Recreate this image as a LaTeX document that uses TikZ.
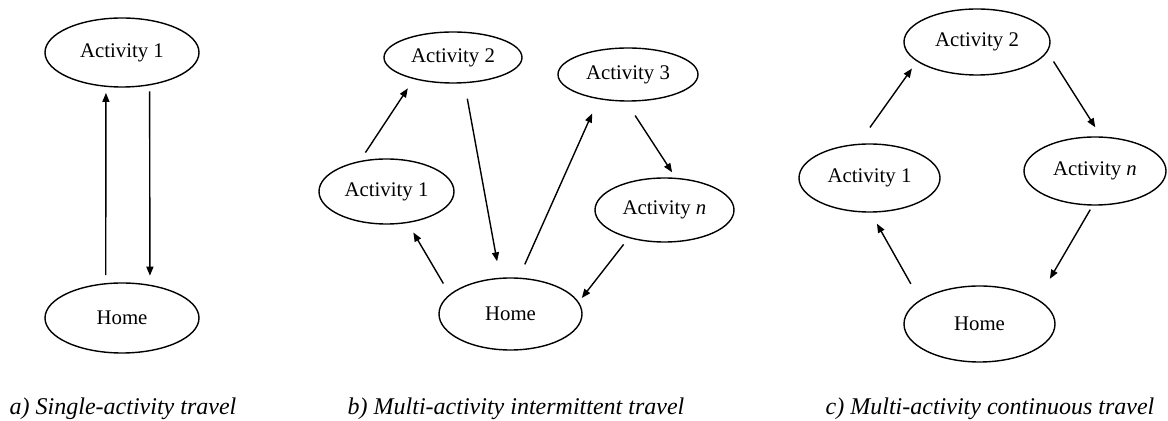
\documentclass[tikz,border=0pt]{standalone}
\usepackage{fontspec}
\setmainfont{Liberation Serif}
\usetikzlibrary{shapes.geometric,arrows.meta}

\begin{document}
\begin{tikzpicture}[x=0.5pt,y=-0.5pt,
	place/.style={ellipse,draw,line width=0.7pt,inner sep=0pt,font=\fontsize{10.4}{12}\selectfont},
	trip/.style={-{Triangle[length=4.5pt,width=3.5pt]},line width=0.7pt},
	caption/.style={anchor=base,font=\fontsize{12}{14}\selectfont\itshape}]
	\useasboundingbox (0,0) rectangle (1168,421);
	% a) single activity
	\node[place,minimum width=77pt,minimum height=34.5pt] (a1) at (122,52.5) {Activity 1};
	\node[place,minimum width=77pt,minimum height=35pt] (ha) at (122,318) {Home};
	\draw[trip,shorten <=4pt,shorten >=3pt] (ha.115) -- (a1.245);
	\draw[trip,shorten <=3pt,shorten >=4.5pt] (a1.-50) -- (ha.50);
	\node[caption] (capa) at (123,415) {a) Single-activity travel};
	% b) intermittent
	\node[place,minimum width=69pt,minimum height=25.5pt] (b2) at (453,57.5) {Activity 2};
	\node[place,minimum width=70pt,minimum height=26.5pt] (b3) at (628,74.5) {Activity 3};
	\node[place,minimum width=67.5pt,minimum height=32.5pt] (b1) at (386.5,191.5) {Activity 1};
	\node[place,minimum width=69.5pt,minimum height=32pt] (bn) at (664.5,210) {Activity \textit{n}};
	\node[place,minimum width=71.5pt,minimum height=36pt] (hb) at (510.5,314) {Home};
	\draw[trip,shorten <=5pt,shorten >=5.5pt] (b1.131) -- (b2.209);
	\draw[trip,shorten <=7.8pt,shorten >=8.3pt] (b2.294) -- (hb.106);
	\draw[trip,shorten <=7.2pt,shorten >=7.8pt] (hb.77) -- (b3.220);
	\draw[trip,shorten <=8.3pt,shorten >=3.2pt] (b3.266) -- (bn.71);
	\draw[trip,shorten <=4pt,shorten >=2.5pt] (bn.218) -- (hb.10);
	\draw[trip,shorten <=6.2pt,shorten >=5.5pt] (hb.162) -- (b1.304);
	\node[caption] (capb) at (516,415) {b) Multi-activity intermittent travel};
	% c) continuous
	\node[place,minimum width=73pt,minimum height=33pt] (c2) at (977,42) {Activity 2};
	\node[place,minimum width=70.5pt,minimum height=34pt] (c1) at (869.5,178) {Activity 1};
	\node[place,minimum width=71pt,minimum height=34pt] (cn) at (1095,171) {Activity \textit{n}};
	\node[place,minimum width=75.5pt,minimum height=38pt] (hc) at (979.5,324) {Home};
	\draw[trip,shorten <=10pt,shorten >=4.3pt] (c1.108) -- (c2.198);
	\draw[trip,shorten <=5.7pt,shorten >=5.4pt] (c2.352) -- (cn.80);
	\draw[trip,shorten <=2.3pt,shorten >=11.8pt] (cn.266) -- (hc.23);
	\draw[trip,shorten <=9.2pt,shorten >=6.3pt] (hc.158) -- (c1.272);
	\node[caption] (capc) at (990,415) {c) Multi-activity continuous travel};
\end{tikzpicture}
\end{document}
